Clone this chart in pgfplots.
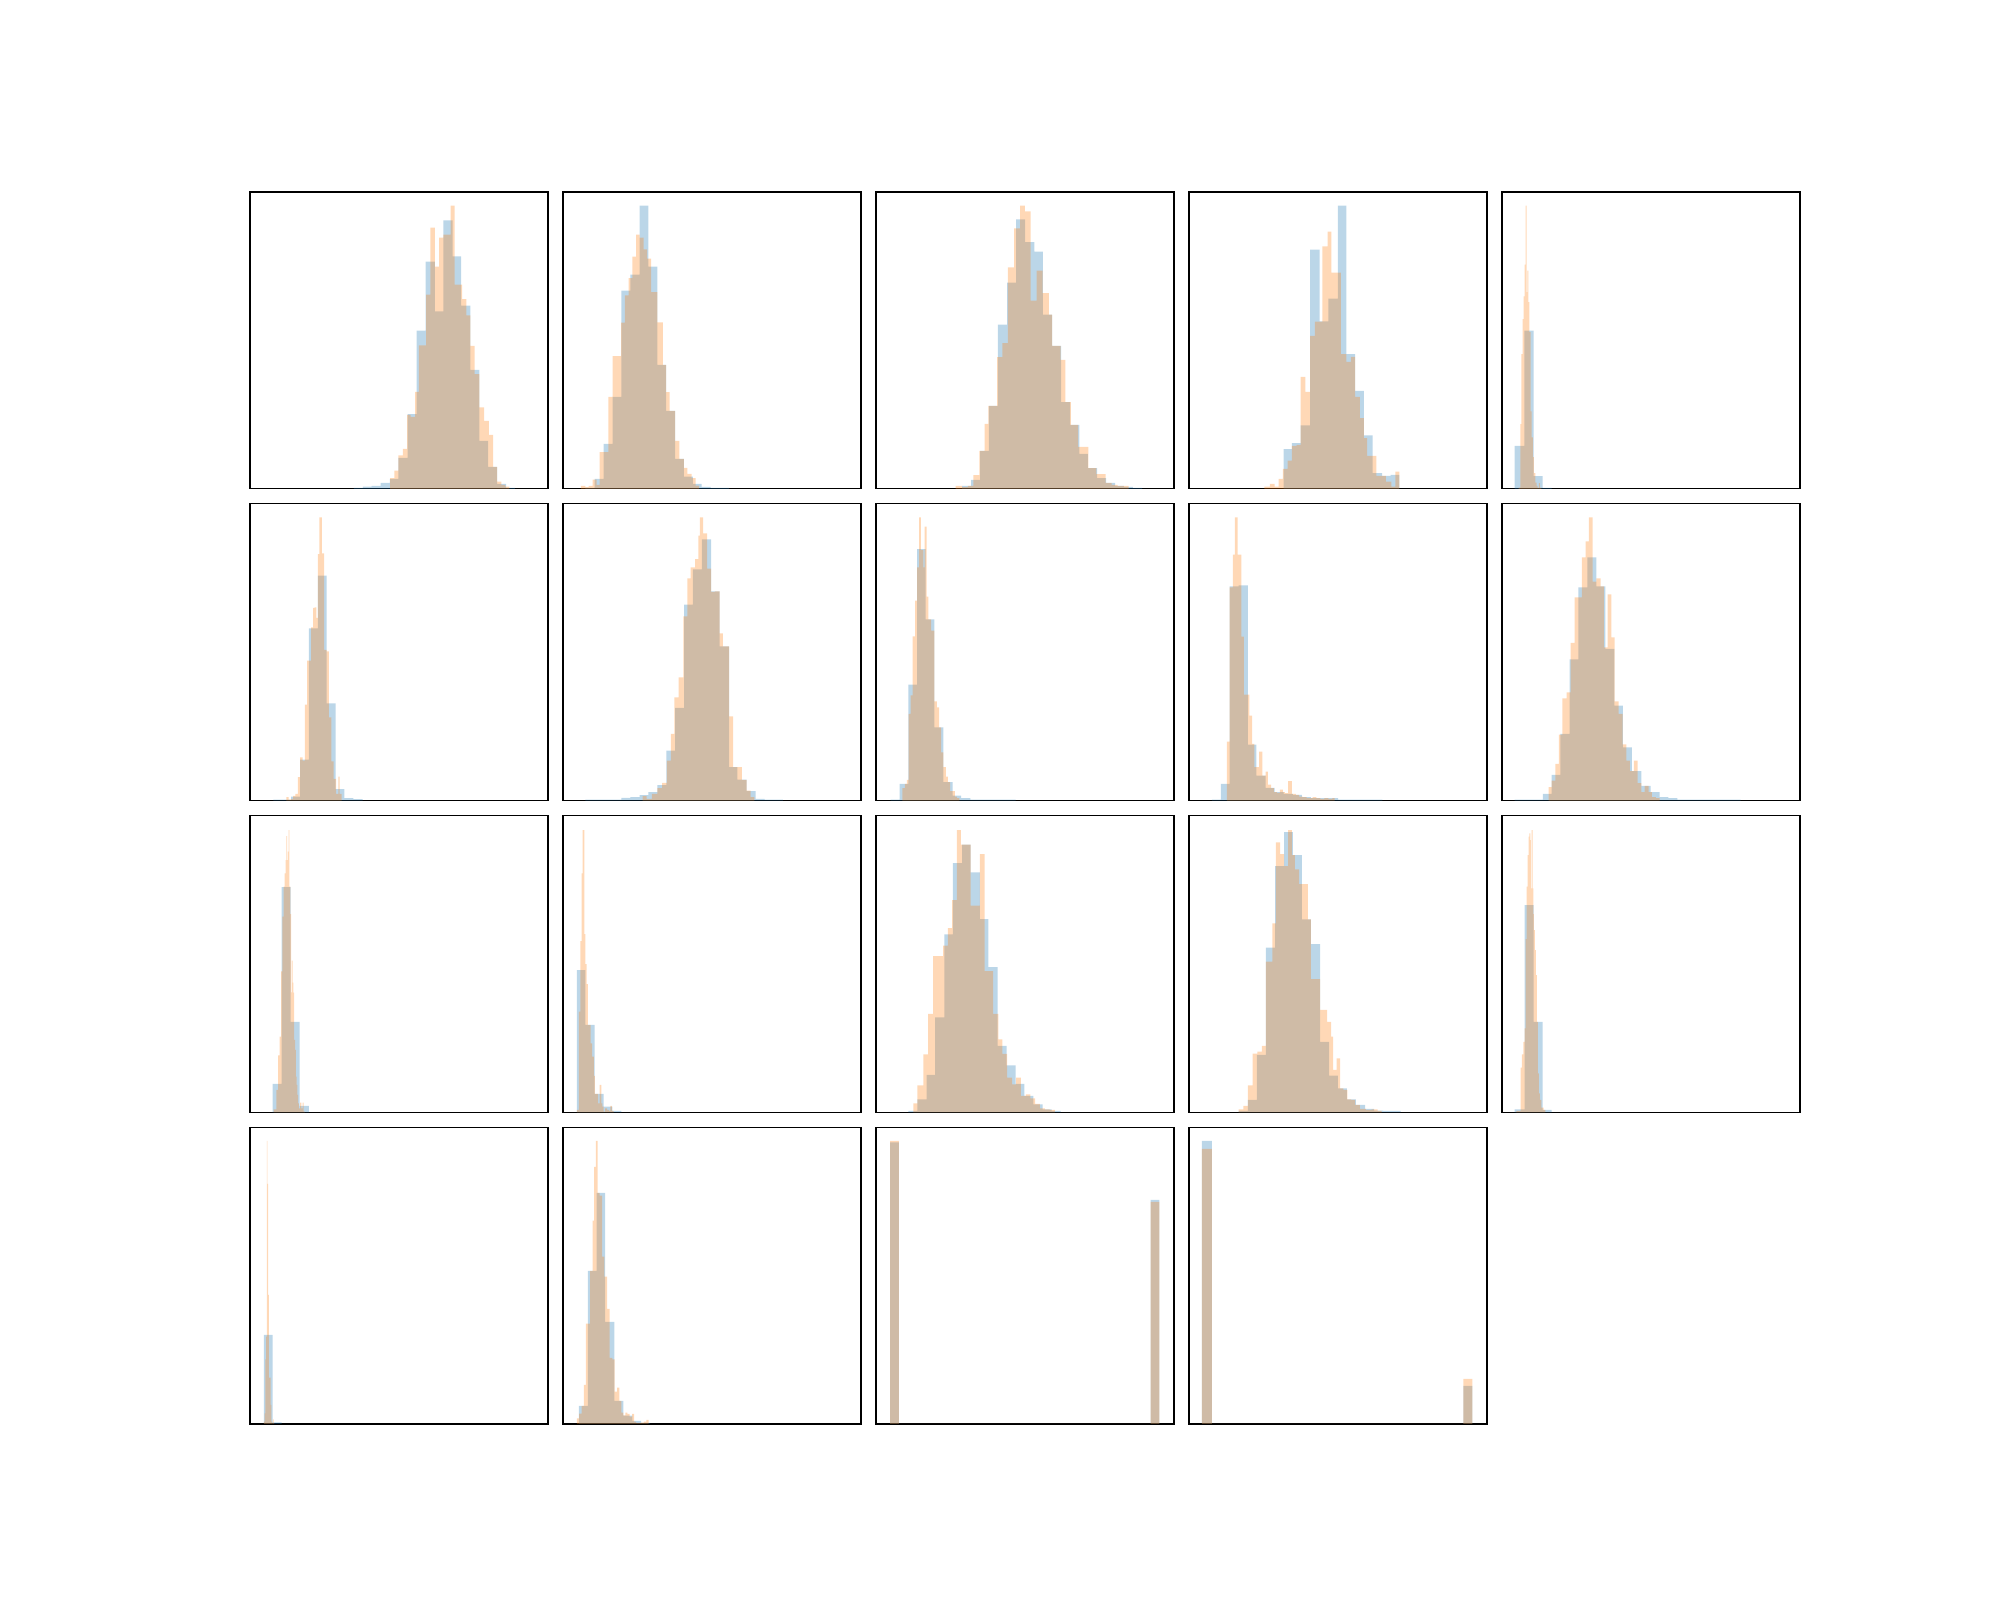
\documentclass[border=0pt]{standalone}
\usepackage{pgfplots}
\pgfplotsset{compat=1.18}
\definecolor{tabblue}{RGB}{31,119,180}
\definecolor{taborange}{RGB}{255,127,14}
\pgfplotsset{
  panel/.style={scale only axis, width=1.490385in, height=1.484337in,
    anchor=south west, xtick=\empty, ytick=\empty, ymin=0,
    axis line style={line width=0.45pt, black}},
  hb/.style={const plot, fill=tabblue, fill opacity=0.3, draw=none, mark=none},
  ho/.style={const plot, fill=taborange, fill opacity=0.3, draw=none, mark=none},
}
\newcommand\hpanel[7]{%
\begin{axis}[panel, at={(#1in,#2in)}, xmin=#3, xmax=#4, ymax=#5]
\addplot[hb] coordinates {#6} \closedcycle;
\addplot[ho] coordinates {#7} \closedcycle;
\end{axis}}
\begin{document}
\begin{tikzpicture}
\path[use as bounding box] (0,0) rectangle (10in,8in);
% Row 1
\hpanel{1.25}{5.555663}{13}{768}{890}
{(276,3)(299,7)(321,9)(344,18)(367,30)(389,93)(412,224)(435,474)(458,681)(481,532)(503,805)(526,697)(548,549)(571,357)(594,144)(616,66)(639,15)(662,3)(684,0)}
{(368,32)(379,55)(389,100)(400,120)(411,222)(420,216)(431,291)(441,430)(459,582)(470,783)(481,666)(492,753)(503,762)(514,762)(521,849)(531,612)(542,612)(550,569)(561,520)(571,429)(582,344)(594,244)(606,204)(618,162)(629,66)(639,22)(650,12)(660,7)(670,0)}
\hpanel{2.814904}{5.555663}{805}{1560}{890}
{(862,3)(885,30)(908,135)(931,276)(953,594)(976,642)(999,849)(1021,666)(1044,372)(1066,234)(1089,90)(1111,37)(1134,15)(1156,6)(1179,3)(1226,0)}
{(850,9)(862,5)(870,9)(880,28)(890,12)(898,110)(909,110)(920,276)(931,398)(941,398)(952,498)(962,580)(971,632)(981,696)(990,762)(999,753)(1009,718)(1018,690)(1028,590)(1044,499)(1058,372)(1066,290)(1075,234)(1089,144)(1100,90)(1111,63)(1120,45)(1131,32)(1141,10)(1150,0)}
\hpanel{4.379808}{5.555663}{15}{770}{890}
{(233,9)(256,27)(279,114)(301,249)(324,492)(347,618)(370,808)(393,740)(416,711)(438,522)(461,429)(484,260)(507,192)(530,105)(552,62)(575,32)(598,18)(621,9)(643,6)(666,3)(689,0)}
{(217,9)(233,5)(248,9)(262,41)(277,114)(290,195)(300,249)(322,395)(335,437)(349,664)(365,781)(380,849)(392,832)(407,564)(422,654)(437,587)(453,522)(461,429)(483,387)(495,260)(509,192)(527,126)(553,62)(573,44)(597,18)(612,12)(627,9)(655,0)}
\hpanel{5.944712}{5.555663}{807}{1562}{890}
{(1047,119)(1068,137)(1090,190)(1114,717)(1138,502)(1160,570)(1184,849)(1206,404)(1228,294)(1250,160)(1272,47)(1296,39)(1318,42)(1340,0)}
{(998,7)(1012,15)(1024,7)(1034,30)(1045,60)(1057,85)(1068,129)(1080,132)(1090,336)(1102,291)(1114,459)(1126,501)(1145,727)(1158,771)(1168,648)(1184,648)(1192,404)(1206,381)(1217,396)(1228,276)(1240,212)(1250,152)(1258,99)(1282,39)(1306,22)(1320,7)(1330,52)(1340,0)}
\hpanel{7.509616}{5.555663}{22}{916}{890}
{(60,129)(89,474)(117,38)(144,3)(171,0)}
{(72,4)(77,194)(80,404)(84,509)(87,577)(90,672)(93,849)(96,590)(98,654)(101,560)(104,470)(108,232)(111,154)(115,95)(118,47)(122,19)(126,9)(129,3)(133,17)(136,3)(140,0)}
% Row 2
\hpanel{1.25}{3.997109}{13}{768}{891}
{(72,3)(95,3)(117,12)(140,123)(162,517)(185,675)(207,292)(230,34)(252,7)(275,4)(298,0)}
{(105,10)(111,3)(117,5)(122,14)(128,20)(134,70)(140,130)(146,120)(152,288)(158,420)(164,420)(168,520)(173,578)(177,580)(181,548)(185,740)(189,850)(195,742)(201,452)(207,448)(213,250)(219,118)(225,65)(231,20)(237,72)(240,20)(245,0)}
\hpanel{2.814904}{3.997109}{805}{1560}{891}
{(862,3)(953,8)(976,10)(999,16)(1021,25)(1044,46)(1067,150)(1089,278)(1112,588)(1134,694)(1157,784)(1180,628)(1202,463)(1226,100)(1247,63)(1270,28)(1293,5)(1316,3)(1362,0)}
{(1007,13)(1017,5)(1030,20)(1044,37)(1056,53)(1068,120)(1078,200)(1087,310)(1098,370)(1110,553)(1120,667)(1128,700)(1140,725)(1148,795)(1152,850)(1160,802)(1170,696)(1180,626)(1190,628)(1202,502)(1210,463)(1226,253)(1236,100)(1247,100)(1258,62)(1270,30)(1280,10)(1290,0)}
\hpanel{4.379808}{3.997109}{15}{770}{891}
{(52,3)(75,50)(97,348)(119,755)(141,544)(163,220)(186,55)(209,15)(231,7)(254,3)(369,0)}
{(82,37)(88,50)(93,62)(98,260)(103,316)(108,493)(114,600)(119,700)(124,850)(129,752)(135,700)(138,822)(143,612)(148,544)(155,510)(163,298)(169,280)(175,220)(180,145)(186,100)(192,72)(197,55)(203,28)(209,28)(215,12)(220,7)(226,0)}
\hpanel{5.944712}{3.997109}{807}{1562}{891}
{(865,3)(888,50)(910,643)(933,646)(956,168)(978,75)(1001,38)(1024,25)(1047,20)(1070,17)(1093,10)(1116,7)(1139,7)(1162,7)(1185,3)(1297,0)}
{(903,177)(910,640)(918,738)(923,850)(930,738)(940,492)(946,318)(956,318)(960,255)(967,170)(973,100)(985,147)(993,75)(1001,87)(1007,48)(1015,37)(1022,25)(1030,23)(1037,33)(1045,25)(1050,22)(1058,58)(1068,20)(1078,17)(1086,12)(1095,10)(1105,7)(1120,10)(1130,7)(1140,5)(1150,7)(1160,5)(1170,7)(1176,0)}
\hpanel{7.509616}{3.997109}{22}{916}{891}
{(60,3)(145,20)(171,77)(197,200)(225,424)(251,640)(278,730)(305,643)(332,455)(359,285)(385,160)(412,88)(440,44)(468,25)(495,10)(521,7)(548,3)(738,0)}
{(162,40)(171,60)(182,110)(193,198)(203,307)(216,325)(228,473)(240,610)(251,610)(262,730)(273,778)(283,850)(294,657)(305,667)(318,643)(328,460)(339,619)(350,490)(360,298)(372,260)(384,169)(395,120)(406,88)(418,120)(429,52)(440,25)(450,44)(462,25)(472,10)(484,7)(495,0)}
% Row 3
\hpanel{1.25}{2.438555}{13}{768}{891}
{(70,85)(93,676)(116,271)(139,19)(162,0)}
{(73,9)(80,67)(84,171)(88,227)(92,423)(95,587)(98,677)(101,717)(103,757)(105,829)(107,757)(109,782)(111,847)(113,677)(115,595)(117,360)(119,455)(121,389)(123,359)(125,217)(127,187)(129,107)(131,82)(133,52)(135,27)(137,12)(140,29)(143,12)(146,29)(149,2)(152,0)}
\hpanel{2.814904}{2.438555}{805}{1560}{891}
{(840,427)(862,262)(885,55)(908,17)(930,4)(953,0)}
{(840,7)(845,302)(849,514)(852,717)(855,847)(859,535)(862,445)(865,385)(868,262)(872,262)(875,207)(879,167)(883,109)(886,55)(890,55)(894,27)(898,82)(902,27)(905,17)(908,2)(912,12)(917,7)(921,4)(925,19)(929,4)(933,0)}
\hpanel{4.379808}{2.438555}{15}{770}{891}
{(97,4)(120,39)(143,112)(165,285)(188,534)(210,748)(233,803)(255,720)(278,580)(300,436)(323,199)(346,141)(369,85)(391,49)(414,24)(437,9)(460,4)(483,0)}
{(110,27)(120,81)(135,174)(147,295)(160,469)(172,469)(185,500)(197,553)(208,637)(220,847)(230,803)(255,620)(267,620)(278,775)(290,424)(300,424)(312,295)(325,219)(335,175)(347,104)(360,84)(370,104)(382,49)(395,54)(406,42)(418,25)(430,12)(443,9)(455,7)(468,0)}
\hpanel{5.944712}{2.438555}{807}{1562}{891}
{(933,4)(956,37)(979,172)(1002,494)(1025,739)(1048,841)(1070,772)(1093,579)(1116,505)(1139,211)(1162,110)(1184,72)(1207,39)(1230,22)(1253,10)(1276,5)(1299,4)(1343,0)}
{(933,9)(945,19)(956,81)(968,176)(980,182)(992,199)(1002,452)(1018,567)(1027,810)(1038,775)(1048,739)(1058,847)(1068,772)(1075,729)(1086,685)(1097,685)(1108,579)(1116,400)(1139,307)(1157,271)(1167,227)(1172,127)(1181,162)(1190,72)(1198,67)(1208,39)(1218,37)(1228,22)(1240,10)(1255,7)(1270,9)(1285,4)(1295,0)}
\hpanel{7.509616}{2.438555}{22}{916}{891}
{(60,9)(90,622)(117,271)(144,7)(171,0)}
{(65,4)(78,134)(82,174)(86,211)(90,252)(93,520)(96,677)(99,772)(102,827)(104,837)(107,817)(109,672)(111,847)(114,672)(116,595)(118,547)(121,487)(124,412)(127,271)(130,117)(133,57)(136,37)(140,14)(143,14)(147,7)(152,0)}
% Row 4
\hpanel{1.25}{0.880001}{13}{768}{890}
{(48,267)(70,5)(93,0)}
{(48,7)(50,32)(52,194)(54,262)(56,849)(57,720)(59,387)(61,139)(63,139)(65,57)(67,7)(69,2)(71,14)(73,2)(75,0)}
\hpanel{2.814904}{0.880001}{805}{1560}{890}
{(845,54)(868,459)(890,693)(912,306)(935,69)(958,25)(981,9)(1003,3)(1026,0)}
{(840,17)(846,31)(852,54)(858,117)(863,301)(868,301)(874,459)(880,610)(884,771)(888,849)(893,693)(898,685)(904,502)(910,442)(917,345)(923,198)(930,194)(936,97)(942,109)(948,69)(953,34)(958,26)(963,34)(968,30)(974,22)(980,30)(985,7)(990,3)(996,3)(1003,4)(1010,7)(1016,12)(1022,0)}
\hpanel{4.379808}{0.880001}{15}{770}{890}
{(51,844)(73,0)(711,672)(733,0)}
{(51,849)(73,0)(711,666)(733,0)}
\hpanel{5.944712}{0.880001}{807}{1562}{890}
{(840,849)(865,0)(1502,114)(1525,0)}
{(840,825)(865,0)(1502,135)(1525,0)}
\end{tikzpicture}
\end{document}
